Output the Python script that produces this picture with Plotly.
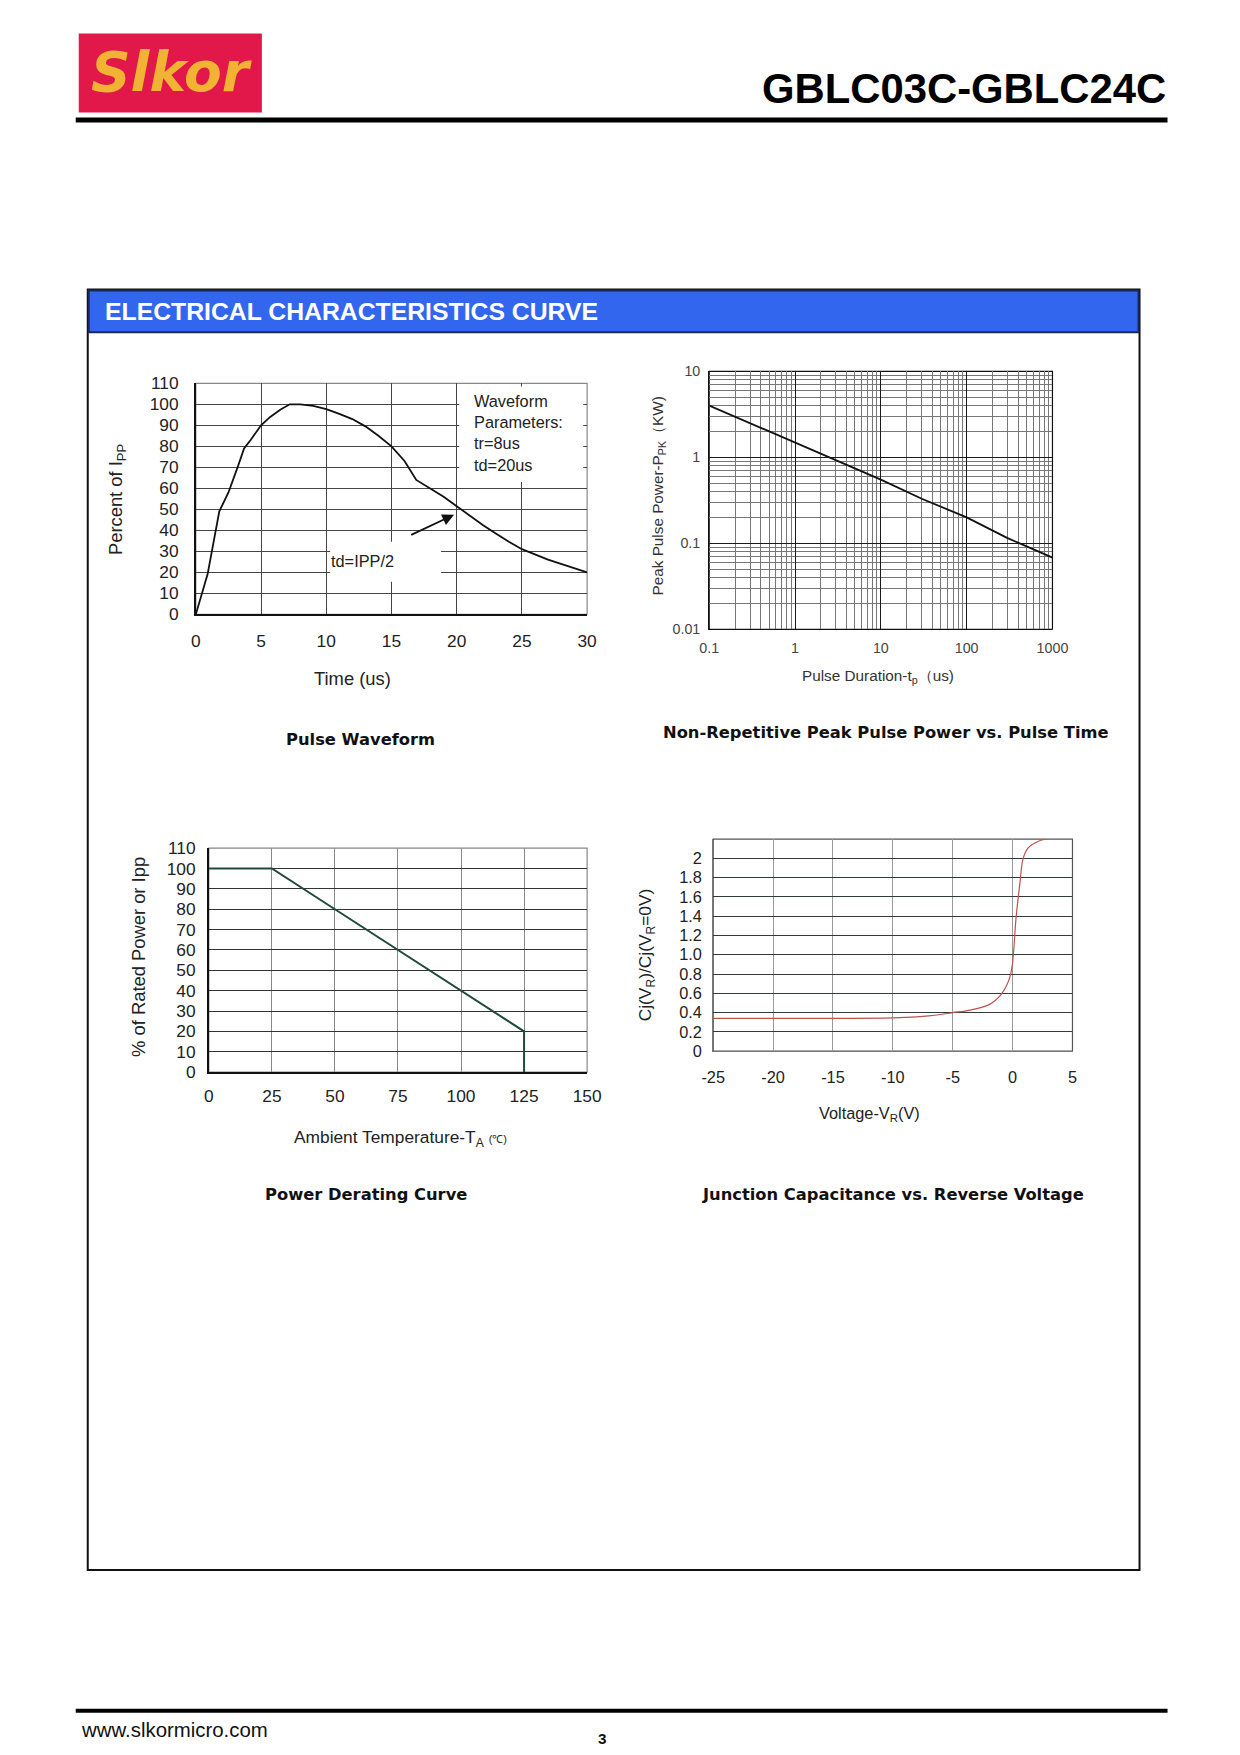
import plotly.graph_objects as go

W, H = 1240, 1755

# ---- data ----
pulse_time = [0, 0.9, 1.8, 2.5, 3.2, 3.7, 4.2, 5, 5.7, 6.5, 7.2, 8, 9, 10, 11, 12, 13, 14, 15, 16,
              16.9, 18, 19, 20, 21, 22, 23, 24, 25, 26, 27, 28, 29, 30]
pulse_pct = [0, 19, 49, 58, 70, 79, 83, 90, 94, 97.5, 100, 100, 99.3, 97.7, 95.5, 93, 89.5, 85, 80, 73,
             64, 60, 56, 51.5, 47, 42.5, 38.5, 34.5, 31, 28.5, 26, 24, 22, 20]

pp_duration = [0.1, 0.3, 1, 3, 10, 30, 100, 300, 1000]
pp_power = [4.0, 2.5, 1.5, 0.92, 0.55, 0.33, 0.2, 0.115, 0.068]

derate_temp = [0, 25, 50, 75, 100, 125, 125]
derate_pct = [100, 100, 80, 60, 40, 20, 0]

cj_voltage = [-25, -20, -15, -10, -8, -7, -6, -5, -4, -3, -2, -1.5, -1, -0.5, -0.2, 0, 0.3, 0.6,
              0.88, 1.3, 1.85, 2.7, 3.0]
cj_ratio = [0.34, 0.34, 0.34, 0.345, 0.355, 0.365, 0.38, 0.4, 0.415, 0.44, 0.48, 0.52, 0.58, 0.68,
            0.78, 0.92, 1.4, 1.73, 2.0, 2.11, 2.16, 2.2, 2.2]

pulse_xticks = [0, 5, 10, 15, 20, 25, 30]
pulse_yticks = list(range(0, 111, 10))
pp_xticks = [0.1, 1, 10, 100, 1000]
pp_xtext = ["0.1", "1", "10", "100", "1000"]
pp_yticks = [0.01, 0.1, 1, 10]
pp_ytext = ["0.01", "0.1", "1", "10"]
derate_xticks = [0, 25, 50, 75, 100, 125, 150]
derate_yticks = list(range(0, 111, 10))
cj_xticks = [-25, -20, -15, -10, -5, 0, 5]
cj_xtext = ["-25", "-20", "-15", "-10", "-5", "0", "5"]
cj_yticks = [0, 0.2, 0.4, 0.6, 0.8, 1.0, 1.2, 1.4, 1.6, 1.8, 2.0]
cj_ytext = ["0", "0.2", "0.4", "0.6", "0.8", "1.0", "1.2", "1.4", "1.6", "1.8", "2"]

minor_log = [m * 10 ** k for k in range(-3, 4) for m in range(2, 10)]

ARIAL = "Liberation Sans, Arial, sans-serif"
BOLDT = "DejaVu Sans, Verdana, sans-serif"

# the captured page comes out slightly shrunk and offset, so page pixels are mapped back
SX, OX = 0.9767, 19.3
SY, OY = 0.989, 16.5
FS = 1.02


def fx(x):
    return (x - OX) / SX / W


def fy(y):
    return 1 - (y - OY) / SY / H


def xdom(a, b):
    return [fx(a), fx(b)]


def ydom(top, bottom):
    return [fy(bottom), fy(top)]


fig = go.Figure()
fig.add_trace(go.Scatter(x=pulse_time, y=pulse_pct, mode="lines",
                         line=dict(color="#111111", width=1.8), xaxis="x", yaxis="y"))
fig.add_trace(go.Scatter(x=pp_duration, y=pp_power, mode="lines",
                         line=dict(color="#111111", width=1.8), xaxis="x2", yaxis="y2"))
fig.add_trace(go.Scatter(x=derate_temp, y=derate_pct, mode="lines",
                         line=dict(color="#1f4a3c", width=2), xaxis="x3", yaxis="y3"))
fig.add_trace(go.Scatter(x=cj_voltage, y=cj_ratio, mode="lines", line_shape="spline",
                         line=dict(color="#c0504d", width=1.2), xaxis="x4", yaxis="y4"))

tick_common = dict(ticks="", zeroline=False, showgrid=True, gridwidth=1)

fig.update_layout(
    width=W, height=H, margin=dict(l=0, r=0, t=0, b=0),
    paper_bgcolor="white", plot_bgcolor="white", showlegend=False,
    font=dict(family=ARIAL, color="#222222"),
    # Pulse waveform
    xaxis=dict(domain=xdom(195, 586), anchor="y", range=[0, 30], tickvals=pulse_xticks,
               gridcolor="#444444", showline=True, linecolor="#111111", linewidth=1.5,
               tickfont=dict(size=17 * FS), ticklabelstandoff=10, **tick_common),
    yaxis=dict(domain=ydom(382, 613), anchor="x", range=[0, 110], tickvals=pulse_yticks,
               gridcolor="#444444", showline=True, linecolor="#111111", linewidth=1.5,
               tickfont=dict(size=17 * FS), ticklabelstandoff=12, **tick_common),
    # Peak pulse power
    xaxis2=dict(domain=xdom(708, 1051), anchor="y2", type="log", range=[-1, 3],
                tickvals=pp_xticks, ticktext=pp_xtext, gridcolor="#1a1a1a",
                minor=dict(tickvals=minor_log, showgrid=True, gridcolor="#777777", gridwidth=1),
                showline=True, linecolor="#111111", linewidth=1.2,
                tickfont=dict(size=14 * FS, color="#444444"), ticklabelstandoff=6, **tick_common),
    yaxis2=dict(domain=ydom(370, 628), anchor="x2", type="log", range=[-2, 1],
                tickvals=pp_yticks, ticktext=pp_ytext, gridcolor="#1a1a1a",
                minor=dict(tickvals=minor_log, showgrid=True, gridcolor="#777777", gridwidth=1),
                showline=True, linecolor="#111111", linewidth=1.2,
                tickfont=dict(size=14 * FS, color="#444444"), ticklabelstandoff=5, **tick_common),
    # Power derating
    xaxis3=dict(domain=xdom(208, 586), anchor="y3", range=[0, 150], tickvals=derate_xticks,
                gridcolor="#888888", showline=True, linecolor="#111111", linewidth=1.5,
                tickfont=dict(size=17 * FS), ticklabelstandoff=7, **tick_common),
    yaxis3=dict(domain=ydom(847, 1071), anchor="x3", range=[0, 110], tickvals=derate_yticks,
                gridcolor="#333333", showline=True, linecolor="#111111", linewidth=1.5,
                tickfont=dict(size=17 * FS), ticklabelstandoff=8, **tick_common),
    # Junction capacitance
    xaxis4=dict(domain=xdom(712, 1071), anchor="y4", range=[-25, 5], tickvals=cj_xticks,
                ticktext=cj_xtext, gridcolor="#999999", showline=True, linecolor="#777777",
                linewidth=1.2, tickfont=dict(size=16 * FS), ticklabelstandoff=11, **tick_common),
    yaxis4=dict(domain=ydom(838, 1050), anchor="x4", range=[0, 2.2], tickvals=cj_yticks,
                ticktext=cj_ytext, gridcolor="#2d3b3b", showline=True, linecolor="#777777",
                linewidth=1.2, tickfont=dict(size=16 * FS), ticklabelstandoff=7, **tick_common),
)

shapes = []
# page header: logo block and rule
shapes.append(dict(type="rect", xref="paper", yref="paper", x0=fx(78), x1=fx(261), y0=fy(111), y1=fy(32),
                   fillcolor="#e2184a", line=dict(width=0)))
shapes.append(dict(type="line", xref="paper", yref="paper", x0=fx(75), x1=fx(1166), y0=fy(118.5), y1=fy(118.5),
                   line=dict(color="#000000", width=5)))
# section frame and blue band
shapes.append(dict(type="rect", xref="paper", yref="paper", x0=fx(87), x1=fx(1138), y0=fy(1569), y1=fy(288),
                   line=dict(color="#111111", width=2)))
shapes.append(dict(type="rect", xref="paper", yref="paper", x0=fx(88), x1=fx(1137), y0=fy(331), y1=fy(289),
                   fillcolor="#3366ee", line=dict(color="#1a2a55", width=2)))
# footer rule
shapes.append(dict(type="line", xref="paper", yref="paper", x0=fx(75), x1=fx(1166), y0=fy(1710), y1=fy(1710),
                   line=dict(color="#000000", width=4)))

# plot frames
for ax, col in [("", "#888888"), ("2", "#111111"), ("3", "#888888"), ("4", "#555555")]:
    shapes.append(dict(type="rect", xref=f"x{ax} domain", yref=f"y{ax} domain", x0=0, x1=1, y0=0, y1=1,
                       line=dict(color=col, width=1.2), layer="below"))

# white boxes behind the waveform notes
shapes.append(dict(type="rect", xref="x", yref="y", x0=20.2, x1=29.7, y0=63, y1=108.5,
                   fillcolor="white", line=dict(width=0), layer="above"))
shapes.append(dict(type="rect", xref="x", yref="y", x0=10.3, x1=18.8, y0=15.5, y1=34.5,
                   fillcolor="white", line=dict(width=0), layer="above"))
fig.update_layout(shapes=shapes)

ann = []


def text(x, y, s, size, bold=False, family=ARIAL, color="#222222", angle=0, xanchor="center"):
    ann.append(dict(x=fx(x), y=fy(y), xref="paper", yref="paper", text=s, showarrow=False,
                    xanchor=xanchor, yanchor="middle", textangle=angle,
                    font=dict(size=size * FS, family=family, color=color,
                              weight="bold" if bold else "normal")))


# header texts
ann.append(dict(x=fx(171), y=fy(71), xref="paper", yref="paper", text="<b><i>Slkor</i></b>",
                showarrow=False, xanchor="center", yanchor="middle",
                font=dict(size=55, family="DejaVu Sans", color="#f2b233")))
text(1166, 87, "GBLC03C-GBLC24C", 41, bold=True, color="#000000", xanchor="right")
text(102, 310, "ELECTRICAL CHARACTERISTICS CURVE", 24.3, bold=True, color="#ffffff", xanchor="left")

# chart 1 labels
text(117, 498, "Percent of I<sub>PP</sub>", 18, angle=-90)
text(352, 677, "Time (us)", 18)
text(360, 738, "Pulse Waveform", 16, bold=True, family=BOLDT, color="#111111")
ann.append(dict(x=21.2, y=106.8, xref="x", yref="y", xanchor="left", yanchor="top", align="left",
                text="Waveform<br>Parameters:<br>tr=8us<br>td=20us", showarrow=False,
                font=dict(size=16 * FS, family=ARIAL, color="#222222")))
ann.append(dict(x=12.8, y=25.2, xref="x", yref="y", xanchor="center", yanchor="middle",
                text="td=IPP/2", showarrow=False,
                font=dict(size=16 * FS, family=ARIAL, color="#222222")))
ann.append(dict(x=19.8, y=47.4, xref="x", yref="y", ax=16.4, ay=37.5, axref="x", ayref="y",
                text="", showarrow=True, arrowhead=2, arrowsize=1.3, arrowwidth=1.8,
                arrowcolor="#111111"))

# chart 2 labels
text(657, 495, "Peak Pulse Power-P<sub>PK</sub>（KW)", 15, angle=-90, color="#333333")
text(877, 675, "Pulse Duration-t<sub>p</sub>（us)", 15, color="#333333")
text(885, 731, "Non-Repetitive Peak Pulse Power vs. Pulse Time", 16, bold=True, family=BOLDT,
     color="#111111")

# chart 3 labels
text(137, 956, "% of Rated Power or Ipp", 18, angle=-90)
text(400, 1137, "Ambient Temperature-T<sub>A</sub> <span style='font-size:11px'>(℃)</span>", 17)
text(365, 1193, "Power Derating Curve", 16, bold=True, family=BOLDT, color="#111111")

# chart 4 labels
text(645, 954, "Cj(V<sub>R</sub>)/Cj(V<sub>R</sub>=0V)", 17, angle=-90)
text(868, 1113, "Voltage-V<sub>R</sub>(V)", 16)
text(892, 1193, "Junction Capacitance vs. Reverse Voltage", 16, bold=True, family=BOLDT,
     color="#111111")

# footer
text(78, 1729, "www.slkormicro.com", 20, color="#111111", xanchor="left")
text(601, 1738, "3", 15, bold=True, color="#111111")

fig.update_layout(annotations=ann)

fig.write_html("out.html")
